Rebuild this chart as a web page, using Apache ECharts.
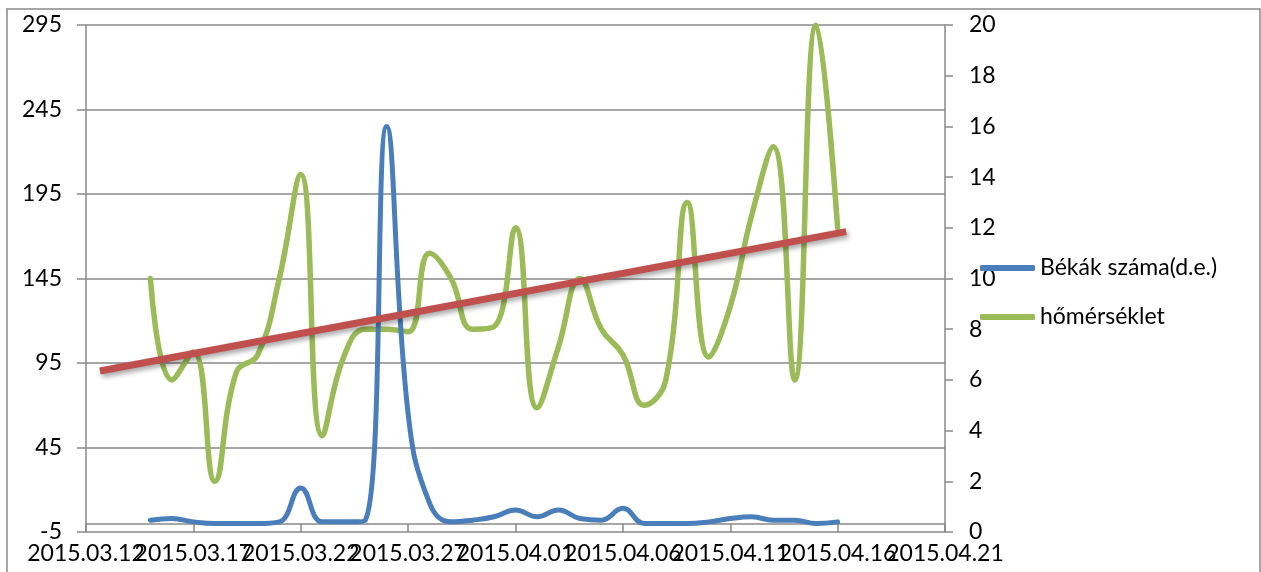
<!DOCTYPE html>
<html>
<head>
<meta charset="utf-8">
<script src="https://cdn.jsdelivr.net/npm/echarts@6/dist/echarts.min.js"></script>
<style>html,body{margin:0;padding:0;background:#fff}#c{width:1261px;height:572px}</style>
</head>
<body>
<div id="c"></div>
<script>
// ---- data ----
const xStart = '2015.03.12';
const xEnd = '2015.04.21';
const dates = ['2015.03.15','2015.03.16','2015.03.17','2015.03.18','2015.03.19','2015.03.20','2015.03.21',
  '2015.03.22','2015.03.23','2015.03.24','2015.03.25','2015.03.26','2015.03.27','2015.03.28','2015.03.29',
  '2015.03.30','2015.03.31','2015.04.01','2015.04.02','2015.04.03','2015.04.04','2015.04.05','2015.04.06',
  '2015.04.07','2015.04.08','2015.04.09','2015.04.10','2015.04.11','2015.04.12','2015.04.13','2015.04.14',
  '2015.04.15','2015.04.16'];
const frogs = [2,3,1,0,0,0,1,21,1,1,2,235,65,12,1,2,4,8,4,8,3,2,9,0,0,0,1,3,4,2,2,0,1];
const temps = [10.0,6.0,7.1,2.0,6.3,7.0,10.0,14.1,3.8,6.9,8.0,8.0,7.9,11.0,10.0,8.0,8.1,12.0,4.9,7.3,10.0,8.0,7.0,5.0,6.0,13.0,6.9,8.9,12.5,15.2,6.0,20.0,12.0];
const trendDays = [0.65, 35.4];   // days after xStart
const trendTemps = [6.35, 11.85];
const xTickDays = 5;
const leftTicks = {min: -5, max: 295, step: 50};
const rightTicks = {min: 0, max: 20, step: 2};
const seriesNames = ['Békák száma(d.e.)', 'hőmérséklet'];

// ---- helpers ----
const DAY = 86400000;
function toUTC(s){ const p = s.split('.').map(Number); return Date.UTC(p[0], p[1]-1, p[2]); }
const t0 = toUTC(xStart);
function dayIdx(s){ return (toUTC(s) - t0) / DAY; }
function fmt(v){
  const d = new Date(t0 + Math.round(v) * DAY);
  const mm = String(d.getUTCMonth()+1).padStart(2,'0');
  const dd = String(d.getUTCDate()).padStart(2,'0');
  return d.getUTCFullYear() + '.' + mm + '.' + dd;
}
const xs = dates.map(dayIdx);
const frogData = xs.map((x,i)=>[x, frogs[i]]);
const tempData = xs.map((x,i)=>[x, temps[i]]);
const trendData = trendDays.map((x,i)=>[x, trendTemps[i]]);

const GRAY = '#898989';
const FONT = 'Lato';
const FS = 23;
const xMax = dayIdx(xEnd);

function xAxisDef(parity, showLine){
  return {
    type: 'value', gridIndex: 0, position: 'bottom',
    min: 0, max: xMax, interval: xTickDays,
    axisLine: {show: showLine, onZero: true, onZeroAxisIndex: 0, lineStyle: {color: GRAY, width: 1.5}},
    axisTick: {show: showLine, length: 9, lineStyle: {color: GRAY, width: 1.5}},
    splitLine: {show: false},
    axisLabel: {
      margin: 10, fontFamily: FONT, fontSize: FS, color: '#000',
      showMinLabel: true, showMaxLabel: true, hideOverlap: false,
      formatter: v => (Math.round(v / xTickDays) % 2 === parity) ? fmt(v) : ''
    }
  };
}

const chart = echarts.init(document.getElementById('c'));
chart.setOption({
  animation: false,
  backgroundColor: '#fff',
  graphic: [{
    type: 'rect', silent: true, z: -1,
    shape: {x: 7, y: 9, width: 1253, height: 620},
    style: {fill: 'none', stroke: GRAY, lineWidth: 1.5}
  }],
  grid: {left: 86, right: 316, top: 25, bottom: 40, containLabel: false},
  legend: {
    data: seriesNames,
    orient: 'vertical',
    left: 980, top: 256,
    padding: 0,
    icon: 'roundRect',
    itemWidth: 55, itemHeight: 6, itemGap: 25,
    textStyle: {fontFamily: FONT, fontSize: FS, color: '#000', lineHeight: 24}
  },
  xAxis: [xAxisDef(0, true), xAxisDef(1, false)],
  yAxis: [{
    type: 'value', position: 'left',
    min: leftTicks.min, max: leftTicks.max, interval: leftTicks.step,
    axisLine: {show: true, onZero: false, lineStyle: {color: GRAY, width: 1.5}},
    axisTick: {show: true, length: 9, lineStyle: {color: GRAY, width: 1.5}},
    splitLine: {show: true, lineStyle: {color: GRAY, width: 1.5}},
    axisLabel: {margin: 24, fontFamily: FONT, fontSize: FS, color: '#000'}
  }, {
    type: 'value', position: 'right',
    min: rightTicks.min, max: rightTicks.max, interval: rightTicks.step,
    axisLine: {show: true, onZero: false, lineStyle: {color: GRAY, width: 1.5}},
    axisTick: {show: true, length: 8, lineStyle: {color: GRAY, width: 1.5}},
    splitLine: {show: false},
    axisLabel: {margin: 24, fontFamily: FONT, fontSize: FS, color: '#000'}
  }],
  series: [{
    name: seriesNames[1], type: 'line', xAxisIndex: 0, yAxisIndex: 1, data: tempData,
    smooth: 0.45, symbol: 'none', showSymbol: false, z: 2,
    itemStyle: {color: '#9bbb59'},
    lineStyle: {color: '#9bbb59', width: 5.5, cap: 'round', join: 'round'}
  }, {
    name: seriesNames[0], type: 'line', xAxisIndex: 0, yAxisIndex: 0, data: frogData,
    smooth: 0.45, symbol: 'none', showSymbol: false, z: 3,
    itemStyle: {color: '#4a7ebb'},
    lineStyle: {color: '#4a7ebb', width: 5, cap: 'round', join: 'round'}
  }, {
    name: 'trend', type: 'line', xAxisIndex: 0, yAxisIndex: 1, data: trendData,
    symbol: 'none', showSymbol: false, z: 4,
    lineStyle: {color: '#c0504d', width: 7, cap: 'butt',
      shadowBlur: 5, shadowColor: 'rgba(0,0,0,0.35)', shadowOffsetX: 2, shadowOffsetY: 3}
  }]
});
</script>
</body>
</html>
